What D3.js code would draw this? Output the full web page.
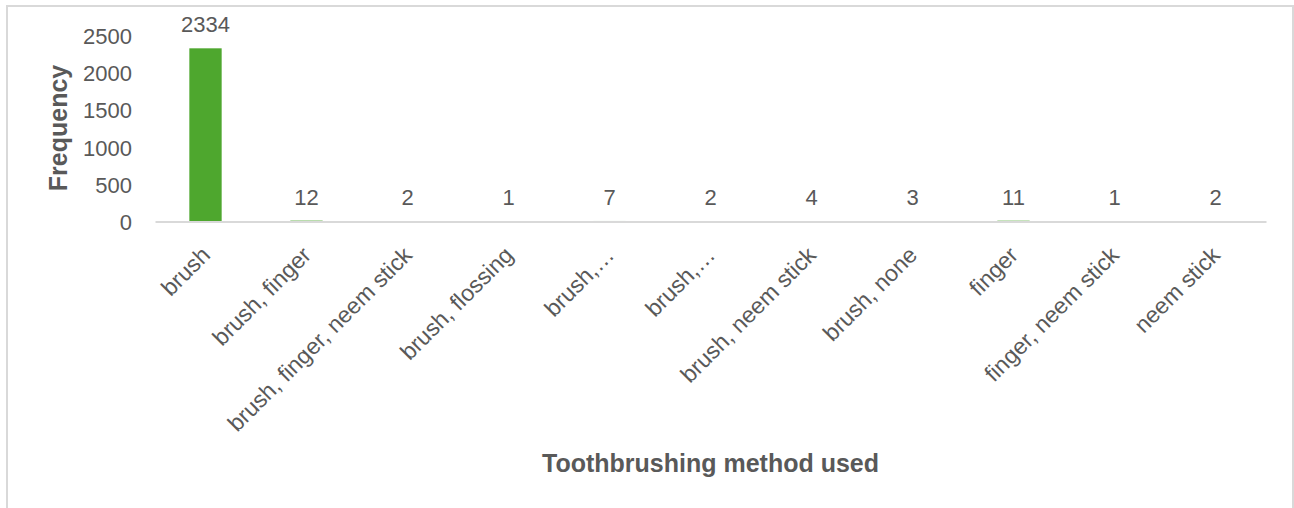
<!DOCTYPE html>
<html>
<head>
<meta charset="utf-8">
<script src="https://cdn.jsdelivr.net/npm/d3@7"></script>
<style>
  html, body { margin: 0; padding: 0; background: #fff; }
  svg { display: block; }
  text { font-family: "Liberation Sans", Arial, sans-serif; fill: #595959; }
</style>
</head>
<body>
<svg id="chart" width="1294" height="508"></svg>
<script>
// Toothbrushing method frequencies
const categories = [
  "brush", "brush, finger", "brush, finger, neem stick", "brush, flossing",
  "brush,\u2026", "brush,\u2026", "brush, neem stick", "brush, none",
  "finger", "finger, neem stick", "neem stick"
];
const frequencies = [2334, 12, 2, 1, 7, 2, 4, 3, 11, 1, 2];
const yTicks = [0, 500, 1000, 1500, 2000, 2500];
const yTitle = "Frequency";
const xTitle = "Toothbrushing method used";

const svg = d3.select("#chart");

// chart frame
svg.append("rect")
  .attr("x", 7).attr("y", 6)
  .attr("width", 1286).attr("height", 540)
  .attr("fill", "#fff")
  .attr("stroke", "#d9d9d9")
  .attr("stroke-width", 2);

const plot = { left: 155, right: 1266, top: 36, bottom: 221.5 };

const x = d3.scaleBand()
  .domain(d3.range(categories.length))
  .range([plot.left, plot.right])
  .paddingInner(0.68)
  .paddingOuter(0.34);

const y = d3.scaleLinear()
  .domain([0, 2500])
  .range([plot.bottom, plot.top]);

// y axis labels (no line, no ticks)
const yAxis = d3.axisLeft(y).tickValues(yTicks).tickSize(0).tickPadding(0)
  .tickFormat(d3.format("d"));
const yg = svg.append("g")
  .attr("transform", `translate(132,0)`)
  .call(yAxis);
yg.select(".domain").remove();
yg.selectAll("text")
  .attr("font-size", 22)
  .attr("font-family", null)
  .attr("fill", "#595959")
  .attr("dy", "0.35em");

// bars
svg.append("g").selectAll("rect")
  .data(frequencies)
  .join("rect")
  .attr("x", (d, i) => x(i))
  .attr("width", x.bandwidth())
  .attr("y", d => y(d))
  .attr("height", d => y(0) - y(d))
  .attr("fill", "#4ea72e");

// x axis baseline and rotated category labels
const xAxis = d3.axisBottom(x).tickSize(0).tickFormat(i => categories[i]);
const xg = svg.append("g")
  .attr("transform", `translate(0,${plot.bottom})`)
  .call(xAxis);
xg.select(".domain")
  .attr("stroke", "#d9d9d9")
  .attr("stroke-width", 2);
xg.selectAll(".tick text")
  .attr("font-size", 23)
  .attr("font-family", null)
  .attr("fill", "#595959")
  .attr("text-anchor", "end")
  .attr("y", 0)
  .attr("dy", 0)
  .attr("transform", "translate(6,35) rotate(-45)");

// value labels
svg.append("g").selectAll("text")
  .data(frequencies)
  .join("text")
  .attr("x", (d, i) => x(i) + x.bandwidth() / 2)
  .attr("y", d => y(d) - 16)
  .attr("text-anchor", "middle")
  .attr("font-size", 22)
  .text(d => d);

// axis titles
svg.append("text")
  .attr("transform", `translate(67,128) rotate(-90)`)
  .attr("text-anchor", "middle")
  .attr("font-size", 25)
  .attr("font-weight", "bold")
  .text(yTitle);

svg.append("text")
  .attr("x", (plot.left + plot.right) / 2)
  .attr("y", 472)
  .attr("text-anchor", "middle")
  .attr("font-size", 25)
  .attr("font-weight", "bold")
  .text(xTitle);
</script>
</body>
</html>
